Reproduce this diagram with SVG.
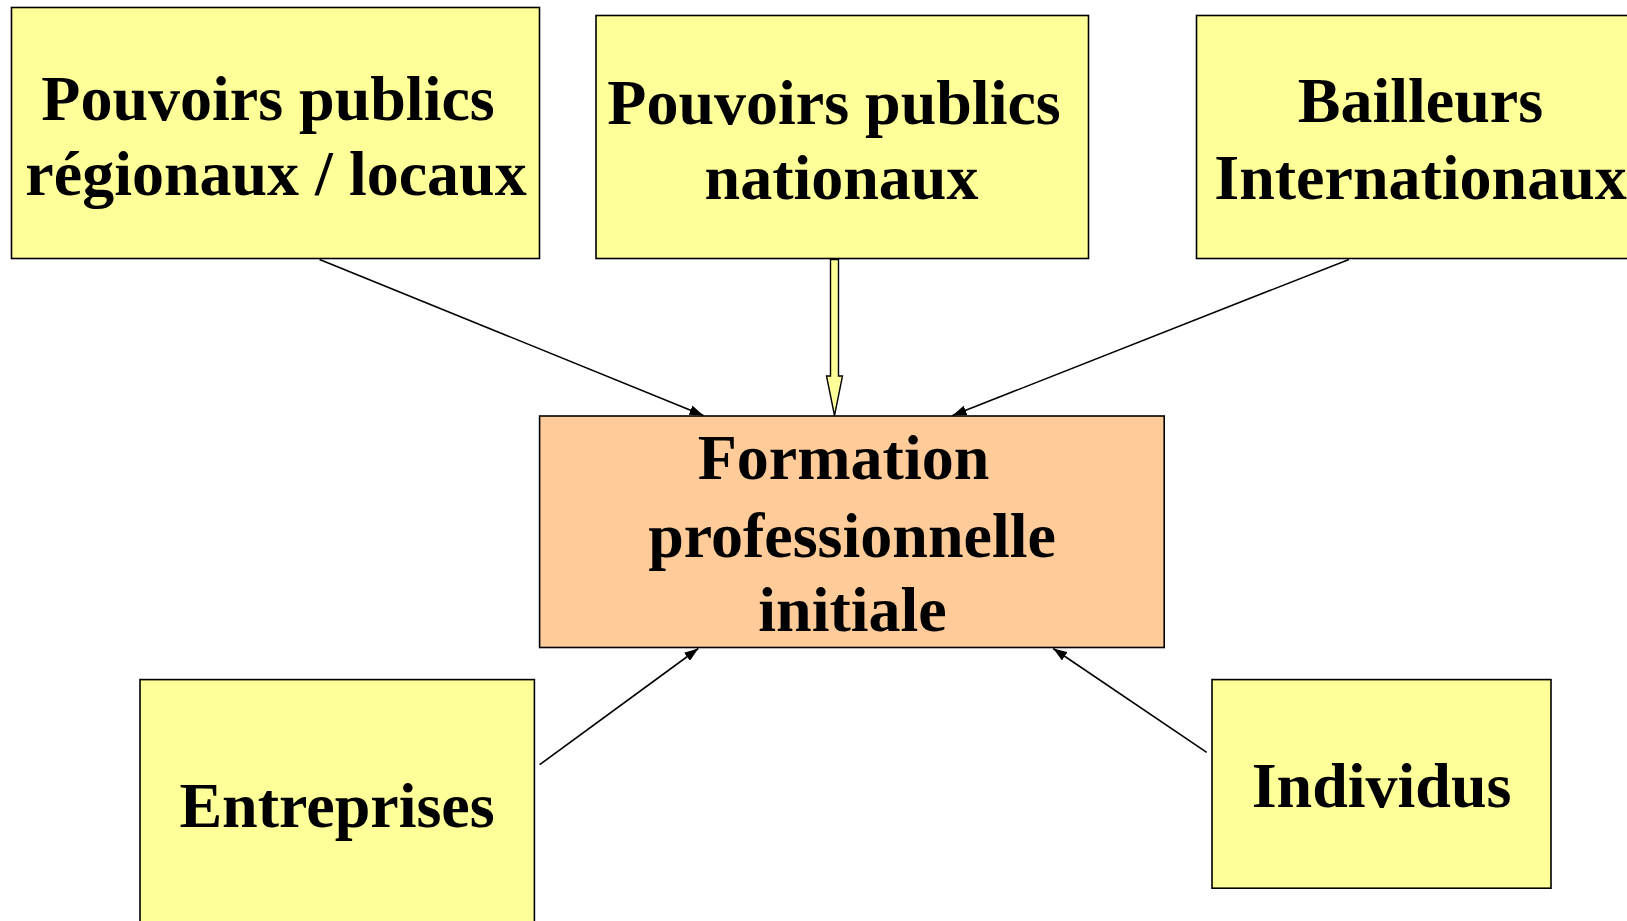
<svg xmlns="http://www.w3.org/2000/svg" width="1627" height="921" viewBox="0 0 1627 921">
  <style>
    .box { stroke: #000; stroke-width: 1.6; }
    .actor { fill: #FFFF99; }
    .core { fill: #FFCC99; }
    .lbl { font-family: "Liberation Serif", "Times New Roman", serif; font-weight: bold; font-size: 64px; fill: #000; text-anchor: middle; }
    .link { stroke: #000; stroke-width: 1.6; fill: none; marker-end: url(#tip); }
  </style>
  <defs>
    <marker id="tip" viewBox="0 0 14 10" refX="14" refY="5" markerWidth="14" markerHeight="10" markerUnits="userSpaceOnUse" orient="auto">
      <path d="M0,0 L14,5 L0,10 Z" fill="#000"/>
    </marker>
  </defs>
  <rect width="1627" height="921" fill="#fff"/>

  <!-- connectors -->
  <g id="connectors">
    <line class="link" x1="319.6" y1="259.4" x2="703.5" y2="415.5"/>
    <path d="M830.5,259.5 L838.5,259.5 L838.5,376 L842.5,376 L834.5,415.5 L826.5,376 L830.5,376 Z" fill="#FFFF99" stroke="#000" stroke-width="1.4"/>
    <line class="link" x1="1349" y1="259.4" x2="952.5" y2="415.5"/>
    <line class="link" x1="539.6" y1="764.7" x2="698.3" y2="648.5"/>
    <line class="link" x1="1206.7" y1="752.3" x2="1053.2" y2="648.5"/>
  </g>

  <g id="regionaux">
    <rect class="box actor" x="11.5" y="7.5" width="528" height="251"/>
    <text class="lbl" x="268" y="120">Pouvoirs publics</text>
    <text class="lbl" x="276" y="195">régionaux / locaux</text>
  </g>

  <g id="nationaux">
    <rect class="box actor" x="596" y="15.5" width="492.5" height="243"/>
    <text class="lbl" x="834" y="124">Pouvoirs publics</text>
    <text class="lbl" x="841.5" y="199">nationaux</text>
  </g>

  <g id="bailleurs">
    <rect class="box actor" x="1196.5" y="15.5" width="460" height="243"/>
    <text class="lbl" x="1420.5" y="122">Bailleurs</text>
    <text class="lbl" x="1420.5" y="199">Internationaux</text>
  </g>

  <g id="formation">
    <rect class="box core" x="539.6" y="416" width="624.6" height="231.5"/>
    <text class="lbl" x="843.5" y="479">Formation</text>
    <text class="lbl" x="852" y="557">professionnelle</text>
    <text class="lbl" x="852.5" y="631">initiale</text>
  </g>

  <g id="entreprises">
    <rect class="box actor" x="140" y="679.6" width="394.4" height="260"/>
    <text class="lbl" x="337" y="827">Entreprises</text>
  </g>

  <g id="individus">
    <rect class="box actor" x="1212" y="679.6" width="339" height="208.6"/>
    <text class="lbl" x="1381.5" y="807">Individus</text>
  </g>
</svg>
